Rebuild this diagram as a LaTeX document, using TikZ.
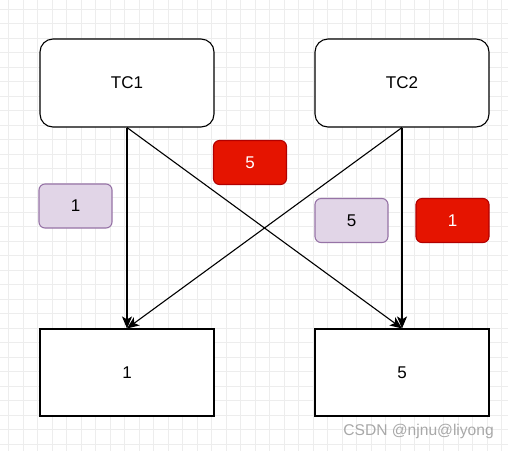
\documentclass[tikz,border=0pt]{standalone}
\usepackage{fontspec}
\setmainfont{Liberation Sans}
\usetikzlibrary{arrows.meta}
\definecolor{gridc}{HTML}{EDEDED}
\definecolor{purfill}{HTML}{E1D5E7}
\definecolor{purline}{HTML}{9673A6}
\definecolor{redfill}{HTML}{E51400}
\definecolor{redline}{HTML}{B20000}
\definecolor{wmark}{HTML}{A8A8A8}
\tikzset{
  tcbox/.style={draw=black, line width=1.1pt, fill=white, rounded corners=13pt,
    minimum width=174pt, minimum height=88pt, inner sep=0pt, font=\fontsize{17}{20}\selectfont},
  plainbox/.style={draw=black, line width=1.1pt, fill=white,
    minimum width=174pt, minimum height=87pt, inner sep=0pt, font=\fontsize{17}{20}\selectfont},
  purlabel/.style={draw=purline, line width=1.1pt, fill=purfill, rounded corners=6pt,
    minimum width=73pt, minimum height=44pt, inner sep=0pt, font=\fontsize{17}{20}\selectfont},
  redlabel/.style={draw=redline, line width=1.1pt, fill=redfill, text=white, rounded corners=6pt,
    minimum width=73pt, minimum height=44pt, inner sep=0pt, font=\fontsize{17}{20}\selectfont},
  conn/.style={draw=black, line width=1.1pt, -{Stealth[length=12pt, width=10pt, inset=3pt]}}
}
\begin{document}
\begin{tikzpicture}[x=1pt,y=-1pt]
\useasboundingbox (0,0) rectangle (508,451);
\fill[white] (0,0) rectangle (508,451);
% grid
\foreach \k in {0,...,34} {
  \draw[gridc, line width=0.7pt] ({8.7+14.5*\k},0) -- ({8.7+14.5*\k},451);
}
\foreach \k in {0,...,30} {
  \draw[gridc, line width=0.7pt] (0,{9+14.5*\k}) -- (508,{9+14.5*\k});
}
% boxes
\node[tcbox] (tc1) at (127,83) {TC1};
\node[tcbox] (tc2) at (402,83) {TC2};
\node[plainbox] (b1) at (127,372.5) {1};
\node[plainbox] (b2) at (402,372.5) {5};
% connectors
\draw[conn] (tc1.south) -- (b1.north);
\draw[conn] (tc1.south) -- (b2.north);
\draw[conn] (tc2.south) -- (b2.north);
\draw[conn] (tc2.south) -- (b1.north);
% labels
\node[purlabel] (l1) at (75.5,206) {1};
\node[redlabel] (l2) at (250,162.5) {5};
\node[purlabel] (l3) at (351.5,220.5) {5};
\node[redlabel] (l4) at (452.5,220.5) {1};
% watermark
\node[text=wmark, font=\fontsize{15.6}{18}\selectfont, anchor=east, inner sep=0pt] (wm) at (494,431.5) {CSDN @njnu@liyong};
\end{tikzpicture}
\end{document}
